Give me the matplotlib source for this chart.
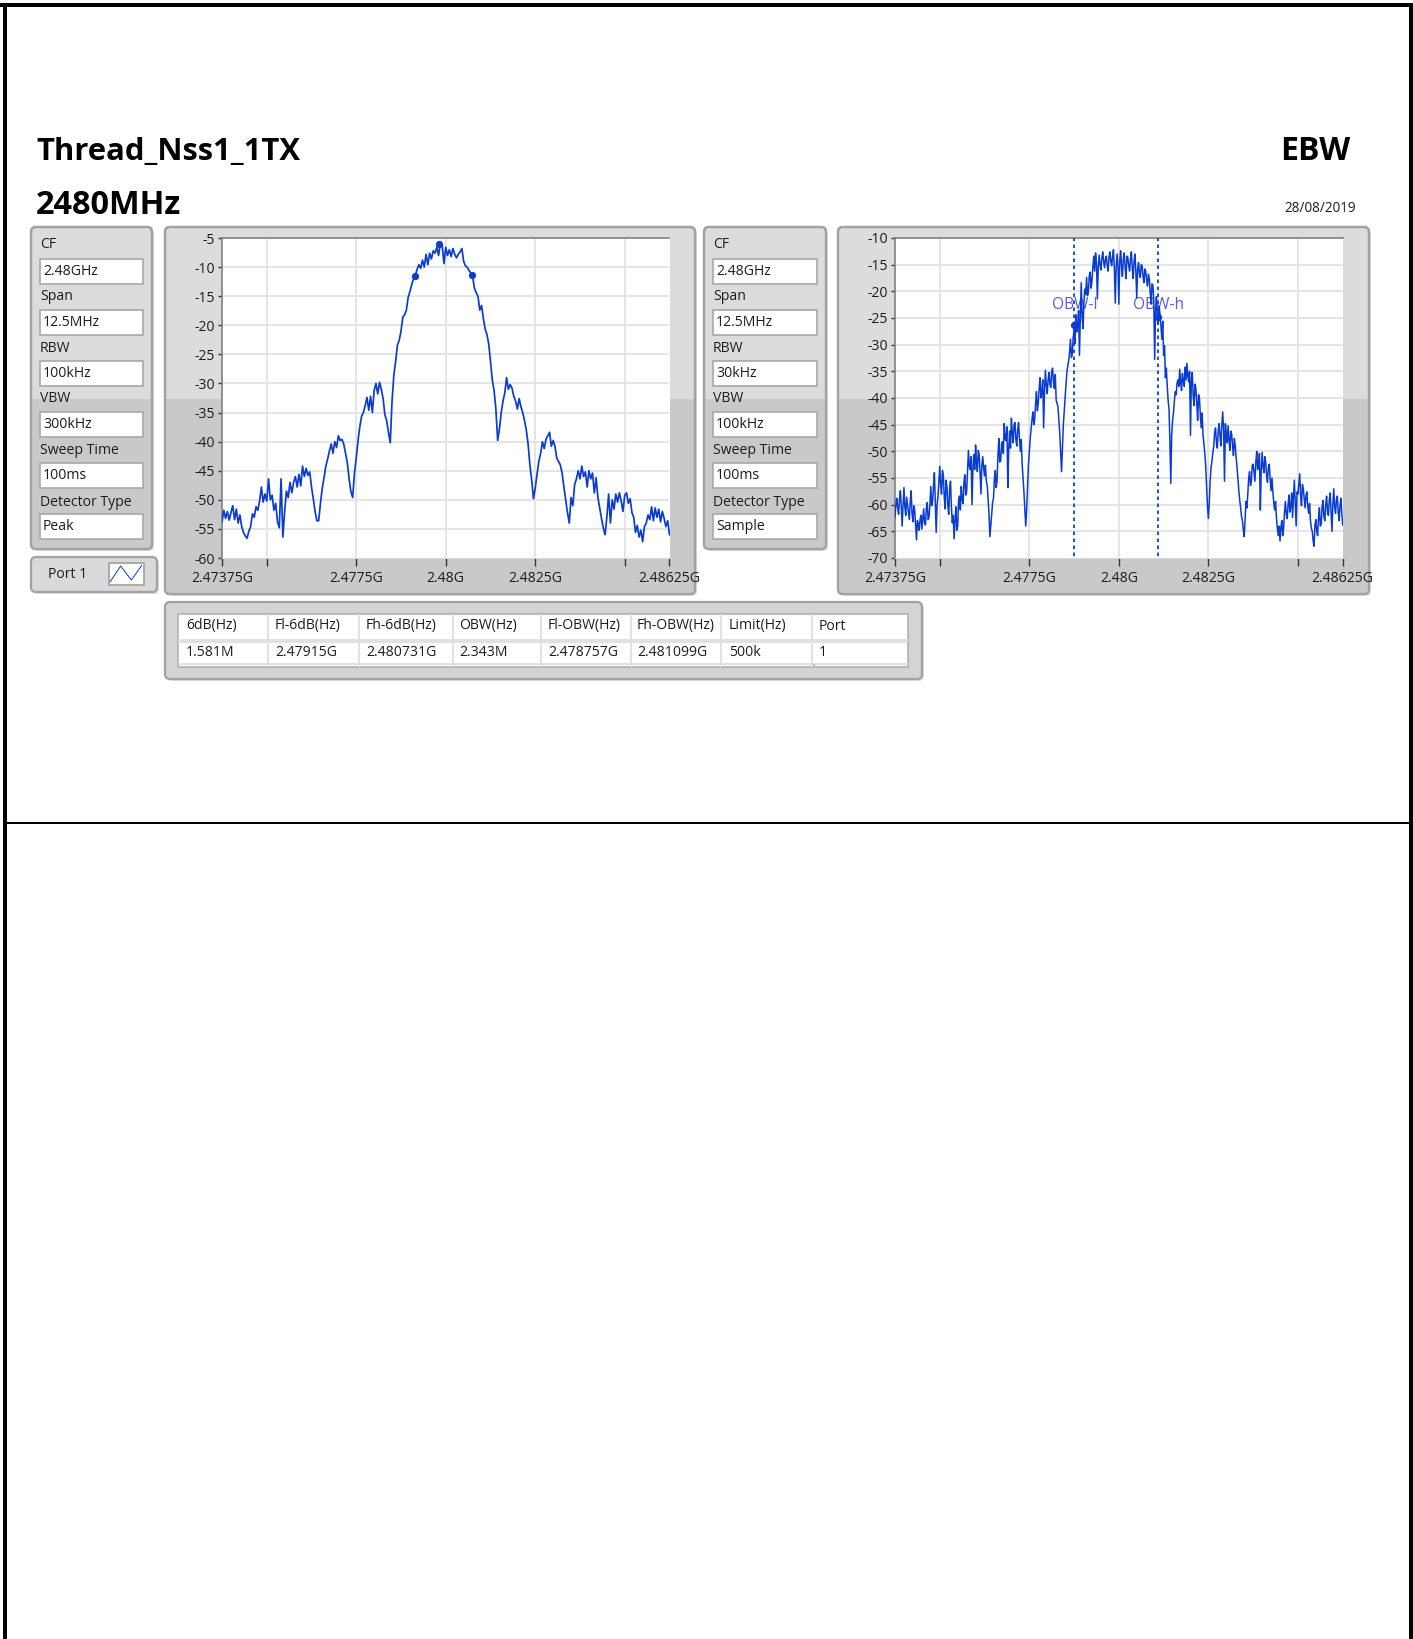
#!/usr/bin/env python3
"""EBW report page: two spectrum traces with instrument settings and result table."""

import numpy as np
import matplotlib
matplotlib.use("Agg")
import matplotlib.pyplot as plt
from matplotlib.patches import FancyBboxPatch, Rectangle

plt.rcParams["font.family"] = ["Open Sans", "DejaVu Sans"]
plt.rcParams["axes.unicode_minus"] = False

W, H = 1413, 1639

# sweep limits in GHz
f_start, f_stop = 2.47375, 2.48625
freq_ticks = [2.47375, 2.475, 2.4775, 2.48, 2.4825, 2.485, 2.48625]
freq_labels = ["2.47375G", "", "2.4775G", "2.48G", "2.4825G", "", "2.48625G"]
freq_grid = [2.475, 2.4775, 2.48, 2.4825, 2.485]

# 100 kHz RBW trace (dB)
level_rbw100 = [
    -53.8, -51.8, -53.2, -52.0, -53.5,
    -52.2, -51.0, -53.4, -51.6, -54.0,
    -52.6, -54.6, -55.6, -56.2, -56.6,
    -55.4, -54.6, -52.4, -53.0, -51.2,
    -51.8, -50.2, -47.8, -50.4, -49.0,
    -50.2, -46.4, -50.0, -49.2, -51.8,
    -50.6, -53.8, -54.8, -46.4, -56.4,
    -52.0, -48.5, -49.6, -47.0, -48.8,
    -47.0, -46.0, -47.8, -45.6, -47.6,
    -44.2, -46.0, -44.6, -45.8, -45.2,
    -47.8, -49.8, -52.0, -53.6, -53.6,
    -50.6, -48.0, -46.2, -44.2, -43.0,
    -41.6, -40.4, -42.0, -40.0, -41.0,
    -39.0, -39.8, -39.6, -40.4, -42.0,
    -43.6, -46.4, -48.6, -49.6, -45.4,
    -42.8, -39.8, -37.4, -35.6, -35.0,
    -33.8, -32.4, -34.6, -32.2, -35.0,
    -31.2, -30.0, -31.8, -29.8, -31.0,
    -32.6, -35.4, -36.4, -38.4, -40.2,
    -33.0, -28.6, -26.2, -23.4, -22.6,
    -21.0, -18.6, -18.2, -17.4, -15.2,
    -14.2, -13.0, -12.0, -11.4, -10.4,
    -9.6, -10.2, -8.8, -10.0, -7.8,
    -9.6, -7.6, -8.6, -7.2, -7.6,
    -6.6, -8.0, -5.8, -6.2, -9.4,
    -6.6, -8.0, -7.0, -8.2, -6.8,
    -7.8, -8.4, -7.8, -7.4, -6.8,
    -9.0, -9.8, -10.0, -10.6, -11.0,
    -11.6, -13.6, -14.4, -15.0, -17.4,
    -16.6, -18.8, -20.6, -21.6, -23.2,
    -26.2, -29.4, -31.2, -34.4, -39.8,
    -37.8, -35.0, -33.0, -31.6, -29.0,
    -31.0, -30.2, -30.8, -32.2, -33.0,
    -34.4, -32.6, -34.0, -35.0, -36.4,
    -38.0, -40.4, -44.0, -46.6, -49.8,
    -48.0, -45.6, -43.4, -42.0, -40.0,
    -41.2, -39.6, -39.0, -38.4, -40.8,
    -39.8, -40.8, -42.8, -43.4, -44.0,
    -45.4, -47.8, -50.0, -52.2, -54.0,
    -49.6, -51.0, -47.4, -46.4, -45.0,
    -46.4, -44.2, -46.0, -45.2, -47.8,
    -45.0, -46.4, -45.4, -48.8, -46.2,
    -49.6, -51.4, -53.2, -54.8, -56.0,
    -53.0, -49.0, -54.0, -50.0, -51.6,
    -49.0, -50.4, -48.8, -50.2, -52.0,
    -49.2, -48.8, -50.6, -49.8, -52.2,
    -53.0, -55.6, -54.4, -56.4, -55.2,
    -57.2, -54.6, -54.0, -52.6, -53.4,
    -51.2, -53.6, -51.4, -53.0, -51.6,
    -53.8, -52.0, -53.2, -54.6, -53.6, -56.0,
]

# 30 kHz RBW trace (dB), every 50 kHz
level_rbw30 = [
    -62.4, -58.8, -61.8, -57.4, -64.0,
    -56.8, -62.0, -60.0, -62.8, -57.4,
    -63.2, -61.0, -66.6, -63.6, -62.8,
    -64.6, -60.8, -63.8, -59.6, -62.4,
    -56.6, -59.4, -54.0, -65.2, -58.4,
    -52.8, -58.0, -54.6, -60.8, -56.6,
    -61.8, -55.6, -63.4, -66.4, -60.4,
    -64.0, -58.4, -56.6, -59.8, -54.4,
    -57.6, -49.8, -53.4, -60.0, -50.6,
    -48.8, -53.8, -50.6, -58.0, -51.0,
    -54.6, -55.6, -59.0, -66.0, -61.4,
    -58.8, -53.6, -55.6, -47.6, -51.8,
    -48.2, -44.8, -48.0, -56.8, -46.2,
    -43.8, -48.4, -44.6, -49.0, -44.6,
    -50.0, -52.4, -57.6, -64.0, -57.0,
    -50.0, -45.8, -42.6, -44.0, -38.8,
    -41.0, -36.2, -39.0, -45.6, -34.8,
    -39.2, -35.2, -38.0, -34.4, -38.2,
    -40.4, -41.6, -46.6, -53.8, -45.0,
    -39.6, -35.0, -33.0, -29.0, -31.8,
    -27.4, -24.4, -26.4, -32.0, -18.4,
    -27.0, -19.6, -17.4, -20.0, -16.4,
    -18.0, -13.4, -12.8, -21.4, -13.2,
    -16.0, -12.6, -15.6, -13.4, -16.2,
    -12.6, -15.2, -12.2, -22.2, -13.0,
    -22.4, -12.4, -17.2, -12.8, -17.6,
    -13.6, -16.2, -12.6, -17.6, -13.0,
    -21.2, -14.6, -17.4, -15.2, -18.4,
    -16.2, -19.0, -17.6, -22.4, -18.8,
    -32.8, -21.0, -26.0, -24.4, -29.0,
    -32.0, -36.2, -37.6, -42.0, -56.0,
    -44.2, -40.6, -39.4, -36.6, -34.6,
    -38.6, -36.8, -34.2, -33.5, -37.0,
    -47.0, -35.2, -41.4, -38.2, -44.2,
    -40.0, -45.6, -47.0, -50.4, -56.4,
    -62.6, -55.4, -51.8, -49.0, -45.6,
    -49.4, -44.8, -49.0, -42.6, -55.6,
    -46.8, -45.2, -49.8, -46.8, -50.8,
    -49.0, -53.0, -57.4, -60.6, -63.0,
    -66.0, -59.4, -58.0, -53.8, -55.6,
    -52.4, -55.6, -50.0, -52.6, -61.0,
    -50.2, -54.0, -52.0, -55.8, -52.4,
    -57.4, -57.6, -61.0, -62.4, -65.8,
    -66.8, -63.0, -64.4, -59.4, -62.6,
    -58.2, -60.4, -62.4, -55.4, -64.0,
    -58.0, -54.2, -60.2, -57.0, -60.6,
    -57.6, -61.6, -63.0, -65.0, -67.8,
    -62.8, -65.8, -60.6, -63.6, -59.2,
    -63.0, -58.4, -62.0, -57.8, -65.0,
    -57.0, -61.6, -58.4, -63.0, -58.8, -63.8,
]

# same trace, the sweep points between those above
level_rbw30_mid = [
    -60.0, -60.6, -59.0, -60.4, -60.0,
    -60.4, -58.6, -61.4, -59.4, -61.6,
    -60.2, -63.8, -63.0, -64.8, -62.0,
    -62.6, -63.4, -60.6, -62.8, -60.0,
    -60.2, -56.4, -59.6, -60.0, -55.6,
    -56.4, -53.6, -58.6, -55.4, -60.2,
    -57.0, -60.4, -62.0, -62.8, -64.8,
    -59.2, -61.0, -59.0, -55.8, -58.2,
    -53.6, -52.8, -51.0, -53.2, -53.4,
    -52.0, -49.8, -54.0, -52.6, -53.2,
    -52.6, -56.4, -61.8, -63.8, -59.6,
    -55.2, -56.8, -50.6, -52.0, -48.6,
    -50.4, -47.6, -45.4, -49.6, -49.4,
    -46.6, -45.0, -47.8, -46.0, -47.6,
    -47.8, -55.0, -60.8, -61.0, -52.6,
    -47.6, -44.0, -45.0, -41.0, -42.4,
    -38.2, -40.0, -36.6, -38.6, -37.6,
    -36.6, -37.4, -35.0, -37.2, -35.6,
    -41.0, -44.0, -50.0, -49.6, -42.4,
    -37.4, -34.0, -31.4, -32.4, -28.6,
    -29.8, -27.6, -23.6, -24.6, -24.8,
    -22.0, -20.6, -20.8, -17.0, -19.4,
    -15.4, -16.2, -14.6, -15.6, -15.0,
    -13.8, -14.4, -14.0, -15.2, -13.6,
    -14.4, -13.4, -15.8, -15.4, -15.4,
    -14.2, -15.4, -13.8, -15.6, -13.4,
    -15.2, -14.0, -15.6, -14.4, -16.4,
    -15.8, -16.6, -15.0, -17.2, -15.8,
    -18.0, -16.8, -20.2, -18.6, -21.6,
    -23.4, -24.6, -22.8, -26.4, -25.6,
    -30.2, -34.4, -40.4, -48.0, -47.0,
    -42.8, -38.8, -37.2, -37.8, -37.0,
    -35.4, -37.8, -36.6, -35.8, -35.0,
    -36.4, -39.6, -37.4, -41.0, -39.4,
    -43.2, -42.8, -48.6, -52.8, -60.4,
    -59.6, -53.0, -50.2, -46.4, -48.4,
    -46.2, -47.2, -45.0, -46.0, -44.8,
    -48.4, -47.8, -46.2, -49.0, -47.6,
    -51.2, -55.2, -59.2, -62.2, -64.8,
    -62.8, -60.6, -55.0, -56.4, -52.6,
    -54.0, -52.0, -53.4, -50.4, -53.8,
    -52.8, -51.0, -54.6, -53.0, -55.2,
    -55.0, -59.6, -59.4, -64.4, -64.0,
    -64.2, -65.8, -61.4, -61.8, -60.0,
    -61.4, -57.8, -58.6, -59.6, -57.6,
    -56.0, -58.4, -56.2, -58.8, -58.4,
    -60.4, -59.8, -64.4, -66.8, -63.8,
    -65.0, -62.4, -64.0, -60.4, -62.2,
    -60.0, -61.2, -59.2, -61.6, -60.0,
    -60.4, -59.0, -61.4, -60.2, -61.8,
]

# markers on the traces
marker6db_freq = [2.47915, 2.479814, 2.480731]
marker6db_level = [-11.6, -6.0, -11.4]
obw_freq = [2.478757, 2.481099]
obw_level = [-26.3, -24.8]
obw_names = ["OBW-l", "OBW-h"]

# settings panels
setting_names = ["CF", "Span", "RBW", "VBW", "Sweep Time", "Detector Type"]
settings_left = ["2.48GHz", "12.5MHz", "100kHz", "300kHz", "100ms", "Peak"]
settings_right = ["2.48GHz", "12.5MHz", "30kHz", "100kHz", "100ms", "Sample"]

# result table
table_header = ["6dB(Hz)", "Fl-6dB(Hz)", "Fh-6dB(Hz)", "OBW(Hz)",
                "Fl-OBW(Hz)", "Fh-OBW(Hz)", "Limit(Hz)", "Port"]
table_row = ["1.581M", "2.47915G", "2.480731G", "2.343M",
             "2.478757G", "2.481099G", "500k", "1"]

# little legend icon
icon_x = [0, 1, 2, 3]
icon_y = [0.1, 0.9, 0.2, 0.95]

BLUE = "#0a3cd2"
PANEL_LIGHT = "#dcdcdc"
PANEL_DARK = "#c9c9c9"
TEXT = "#1c1c1c"
SPLIT_Y = 399


def px(size):
    # font size for a height in pixels at dpi 100
    return size * 0.72


fig = plt.figure(figsize=(W / 100, H / 100), dpi=100, facecolor="white")
page = fig.add_axes([0, 0, 1, 1], zorder=0)
page.set_xlim(0, W)
page.set_ylim(H, 0)
page.axis("off")


def panel(x0, y0, x1, y1, split=True, face=PANEL_LIGHT):
    # soft shadow, then rounded body with a darker lower half
    page.add_patch(FancyBboxPatch((x0 + 2, y0 + 2), x1 - x0, y1 - y0,
                                  boxstyle="round,pad=0,rounding_size=5",
                                  fc="#dddddd", ec="none"))
    body = FancyBboxPatch((x0, y0), x1 - x0, y1 - y0,
                          boxstyle="round,pad=0,rounding_size=5",
                          fc=face, ec="#a2a2a2", lw=1.6, zorder=2)
    page.add_patch(body)
    if split and y1 > SPLIT_Y:
        low = Rectangle((x0, SPLIT_Y), x1 - x0, y1 - SPLIT_Y, fc=PANEL_DARK,
                        ec="none", zorder=2.1)
        page.add_patch(low)
        low.set_clip_path(body)
        page.add_patch(FancyBboxPatch((x0, y0), x1 - x0, y1 - y0,
                                      boxstyle="round,pad=0,rounding_size=5",
                                      fc="none", ec="#a2a2a2", lw=1.6, zorder=2.2))


def settings_panel(x0, x1, values):
    panel(x0, 227, x1, 549)
    field_tops = [259, 310, 361, 412, 463, 514]
    label_ys = [245, 297, 348, 399, 450, 502]
    for name, value, top, ly in zip(setting_names, values, field_tops, label_ys):
        page.text(x0 + 9, ly, name, fontsize=px(14), color=TEXT, va="center", zorder=4)
        page.add_patch(Rectangle((x0 + 9, top), x1 - x0 - 18, 24.5, fc="white",
                                 ec="#a8a8a8", lw=1.2, zorder=3))
        page.text(x0 + 12, top + 12.5, value, fontsize=px(14), color=TEXT,
                  va="center", zorder=4)


def spectrum(x0, x1, freq, levels, line_width, ymin, ymax, ystep):
    ax = fig.add_axes([x0 / W, 1 - 558 / H, (x1 - x0) / W, 320 / H], zorder=5)
    ax.plot(freq, levels, color=BLUE, lw=line_width, zorder=4)
    ax.set_xlim(f_start, f_stop)
    ax.set_ylim(ymin, ymax)
    ax.set_yticks(np.arange(ymin, ymax + 1, ystep))
    ax.set_xticks(freq_ticks, freq_labels)
    ax.hlines(np.arange(ymin + ystep, ymax, ystep), f_start, f_stop,
              color="#e3e3e3", lw=1.3, zorder=1)
    ax.vlines(freq_grid, ymin, ymax, color="#e3e3e3", lw=1.3, zorder=1)
    ax.tick_params(axis="y", length=3, width=1, pad=2, color="#333333",
                   labelsize=px(14), labelcolor=TEXT)
    ax.tick_params(axis="x", length=5.5, width=1, pad=3.5, color="#333333",
                   labelsize=px(14), labelcolor=TEXT)
    for side in ["top", "left"]:
        ax.spines[side].set_color("#808080")
        ax.spines[side].set_linewidth(1.2)
    ax.spines["right"].set_visible(False)
    ax.spines["bottom"].set_color("#d8d8d8")
    return ax


# page frame
page.fill_between([0, W], 3, 7, color="black", lw=0)
page.fill_betweenx([3, H], 3, 7, color="black", lw=0)
page.fill_betweenx([3, H], 1409, 1413, color="black", lw=0)
page.fill_between([7, 1409], 822, 824, color="black", lw=0)

# headings
page.text(36, 160, "Thread_Nss1_1TX", fontsize=px(31), fontweight="bold", color="black", va="baseline")
page.text(36, 214, "2480MHz", fontsize=px(32.5), fontweight="bold", color="black", va="baseline")
page.text(1350, 160, "EBW", fontsize=px(32), fontweight="bold", color="black", va="baseline", ha="right")
page.text(1356, 208, "28/08/2019", fontsize=px(13.5), color=TEXT, va="center", ha="right")

settings_panel(31, 152, settings_left)
settings_panel(704, 826, settings_right)
panel(165, 227, 695, 594)
panel(838, 227, 1369, 594)

# port legend
panel(31, 557, 157, 592, split=False, face="#d9d9d9")
page.text(68, 574, "Port 1", fontsize=px(14), color=TEXT, va="center", ha="center", zorder=4)
page.add_patch(Rectangle((109, 563), 34.5, 22, fc="white", ec="#a0a0a0", lw=1.2, zorder=3))
icon = fig.add_axes([110 / W, 1 - 584 / H, 32 / W, 20 / H], zorder=6)
icon.plot(icon_x, icon_y, color=BLUE, lw=0.7)
icon.set_xlim(0, 3)
icon.set_ylim(0, 1)
icon.axis("off")

# left trace
freq_100 = np.linspace(f_start, f_stop, len(level_rbw100))
ax_left = spectrum(222, 669.5, freq_100, level_rbw100, 1.25, -60, -5, 5)
ax_left.plot(marker6db_freq, marker6db_level, "o", color=BLUE, ms=4.2, zorder=5)

# right trace with occupied bandwidth cursors
merged_30 = np.empty(len(level_rbw30) + len(level_rbw30_mid))
merged_30[::2] = level_rbw30
merged_30[1::2] = level_rbw30_mid
freq_30 = np.linspace(f_start, f_stop, len(merged_30))
ax_right = spectrum(895, 1342.7, freq_30, merged_30, 1.1, -70, -10, 5)
ax_right.vlines(obw_freq, -69.6, -10, color="#1a4fe0", lw=1.4,
                linestyles=(0, (1.8, 1.8)), zorder=3)
ax_right.plot(obw_freq, obw_level, "o", color=BLUE, ms=4.2, zorder=5)
for f, name in zip(obw_freq, obw_names):
    ax_right.text(f, -22.6, name, color="#5a5ae8", fontsize=px(15.5), ha="center",
                  va="center", zorder=2)

# result table
panel(165, 602, 922, 679, split=False, face="#d4d4d4")
page.add_patch(Rectangle((178, 614), 730, 53, fc="white", ec="#b0b0b0", lw=1.2, zorder=3))
col_lines = [268, 359, 452.5, 541, 630.6, 721, 812]
col_text = [186, 275, 366, 459, 548, 637, 729, 819]
page.vlines(col_lines, 614, 667, color="#dedede", lw=1.3, zorder=3.5)
page.hlines([640, 641.5, 664], 178, 908, color="#dedede", lw=1.3, zorder=3.5)
for x, head, val in zip(col_text, table_header, table_row):
    page.text(x, 626, head, fontsize=px(14), color=TEXT, va="center", zorder=4)
    page.text(x, 652, val, fontsize=px(14), color=TEXT, va="center", zorder=4)
page.add_patch(Rectangle((813, 664), 2, 2, fc="#e8b64a", ec="none", zorder=4))

fig.savefig("out.png", dpi=100, facecolor="white")
